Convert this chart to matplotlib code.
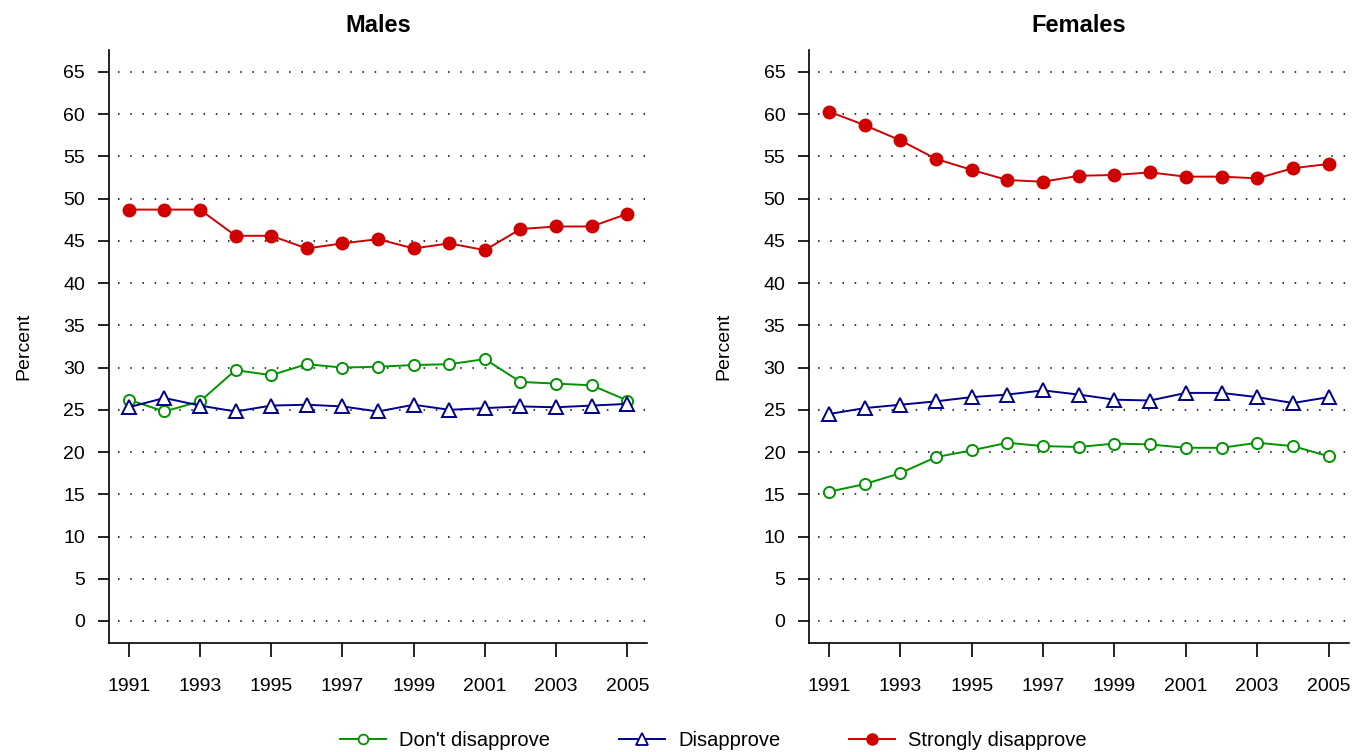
import matplotlib.pyplot as plt
from matplotlib.lines import Line2D

plt.rcParams["font.family"] = ["Liberation Sans", "DejaVu Sans"]

years = list(range(1991, 2006))

males_dont = [26.2, 24.8, 26.0, 29.7, 29.1, 30.4, 30.0, 30.1, 30.3, 30.4, 31.0, 28.3, 28.1, 27.9, 26.1]
males_dis = [25.3, 26.4, 25.5, 24.8, 25.5, 25.6, 25.4, 24.8, 25.6, 25.0, 25.2, 25.4, 25.3, 25.5, 25.7]
males_strong = [48.7, 48.7, 48.7, 45.6, 45.6, 44.1, 44.7, 45.2, 44.1, 44.7, 43.9, 46.4, 46.7, 46.7, 48.2]

females_dont = [15.3, 16.2, 17.5, 19.4, 20.2, 21.1, 20.7, 20.6, 21.0, 20.9, 20.5, 20.5, 21.1, 20.7, 19.5]
females_dis = [24.5, 25.2, 25.6, 26.0, 26.5, 26.8, 27.3, 26.8, 26.2, 26.1, 27.0, 27.0, 26.5, 25.8, 26.5]
females_strong = [60.3, 58.7, 56.9, 54.7, 53.4, 52.2, 52.0, 52.7, 52.8, 53.1, 52.6, 52.6, 52.4, 53.6, 54.1]

series_labels = ["Don't disapprove", "Disapprove", "Strongly disapprove"]
y_ticks = list(range(0, 66, 5))
x_ticks = list(range(1991, 2006, 2))

GREEN = "#009400"
BLUE = "#00008B"
RED = "#D00000"


def draw_panel(ax, title, dont, dis, strong):
    ax.hlines(y_ticks, 1990.7, 2005.55, colors="black", linestyles=(0, (1, 7)), linewidth=1.1, zorder=1)
    ax.plot(years, dont, color=GREEN, lw=1.4, marker="o", ms=8, mfc="white", mec=GREEN, mew=1.4, zorder=3)
    ax.plot(years, dis, color=BLUE, lw=1.4, marker="^", ms=9.5, mfc="white", mec=BLUE, mew=1.4, zorder=3)
    ax.plot(years, strong, color=RED, lw=1.4, marker="o", ms=9, mfc=RED, mec=RED, zorder=3)

    ax.set_xlim(1990.44, 2005.56)
    ax.set_ylim(-2.6, 67.6)
    ax.set_xticks(x_ticks)
    ax.set_yticks(y_ticks)
    for side in ["top", "right"]:
        ax.spines[side].set_visible(False)
    for side in ["left", "bottom"]:
        ax.spines[side].set_linewidth(1.2)
    ax.tick_params(axis="y", length=8, width=1.2, pad=9, labelsize=14)
    ax.tick_params(axis="x", length=10, width=1.2, pad=15, labelsize=14)
    ax.set_ylabel("Percent", fontsize=14, labelpad=22)
    ax.set_title(title, fontsize=17, fontweight="bold", pad=13)


fig = plt.figure(figsize=(13.65, 7.52), dpi=100)
ax1 = fig.add_axes([0.0797, 0.145, 0.3945, 0.7886])
ax2 = fig.add_axes([0.5926, 0.145, 0.3954, 0.7886])

draw_panel(ax1, "Males", males_dont, males_dis, males_strong)
draw_panel(ax2, "Females", females_dont, females_dis, females_strong)

handles = [
    Line2D([], [], color=GREEN, lw=1.4, marker="o", ms=7, mfc="white", mec=GREEN, mew=1.3),
    Line2D([], [], color=BLUE, lw=1.4, marker="^", ms=8, mfc="white", mec=BLUE, mew=1.3),
    Line2D([], [], color=RED, lw=1.4, marker="o", ms=8, mfc=RED, mec=RED),
]
fig.legend(handles, series_labels, loc="lower center", bbox_to_anchor=(0.5225, -0.022), ncol=3,
           frameon=False, fontsize=14.5, handlelength=2.3, columnspacing=3.4, handletextpad=0.65)

fig.savefig("out.png", dpi=100)
